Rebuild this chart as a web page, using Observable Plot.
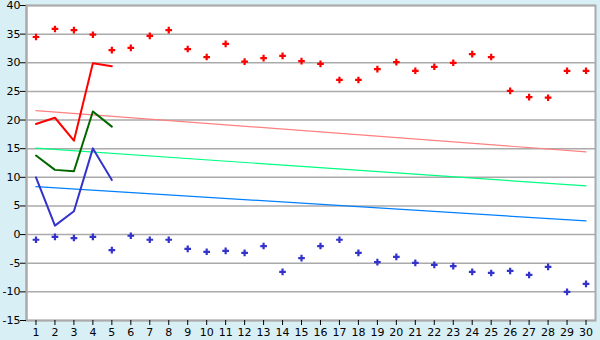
<!DOCTYPE html>
<html><head><meta charset="utf-8">
<script src="https://cdn.jsdelivr.net/npm/d3@7"></script>
<script src="https://cdn.jsdelivr.net/npm/@observablehq/plot@0.6"></script>
<style>
body{margin:0;background:#d9eff6;}
#c{width:600px;height:340px;}
svg{display:block;}
</style></head><body><div id="c"></div>
<script>
const days = d3.range(1, 31);
const yTicks = [-15,-10,-5,0,5,10,15,20,25,30,35,40];
const highPoints = [34.5,35.9,35.7,34.9,32.2,32.6,34.7,35.7,32.4,31.0,33.3,30.2,30.8,31.2,30.3,29.8,27.0,27.0,28.9,30.1,28.6,29.3,30.0,31.5,31.0,25.1,24.0,23.9,28.6,28.6];
const lowPoints = [-0.9,-0.4,-0.6,-0.4,-2.7,-0.2,-0.9,-0.9,-2.5,-3.0,-2.85,-3.2,-2.0,-6.5,-4.1,-2.0,-0.9,-3.2,-4.8,-3.9,-4.95,-5.3,-5.5,-6.5,-6.7,-6.35,-7.05,-5.65,-10.0,-8.6];
const lineDays = [1,2,3,4,5];
const redLine = [19.3,20.4,16.4,29.9,29.4];
const greenLine = [13.8,11.3,11.05,21.5,18.85];
const blueLine = [10.0,1.57,4.07,15.05,9.55];
const trendDays = [1,30];
const redTrend = [21.65,14.45];
const greenTrend = [15.1,8.5];
const blueTrend = [8.38,2.39];

const pts = (xs, ys) => xs.map((d,i)=>({x:d, y:ys[i]}));

const chart = Plot.plot({
  width: 600, height: 340,
  marginLeft: 26, marginRight: 5, marginTop: 5, marginBottom: 20,
  style: {background: "#d9eff6", fontFamily: "DejaVu Sans", fontSize: "11px", color: "#000"},
  x: {domain: [0.5, 30.5], label: null},
  y: {domain: [-15, 40], label: null},
  marks: [
    Plot.frame({fill: "white", stroke: "none"}),
    Plot.ruleY(yTicks, {stroke: "#aaaaaa", strokeWidth: 1.5}),
    Plot.frame({fill: "none", stroke: "#aaaaaa", strokeWidth: 2}),
    Plot.line(pts(trendDays, redTrend), {x:"x", y:"y", stroke: "#ff8080", strokeWidth: 1.2}),
    Plot.line(pts(trendDays, greenTrend), {x:"x", y:"y", stroke: "#00ff80", strokeWidth: 1.2}),
    Plot.line(pts(trendDays, blueTrend), {x:"x", y:"y", stroke: "#0080ff", strokeWidth: 1.2}),
    Plot.line(pts(lineDays, redLine), {x:"x", y:"y", stroke: "#ff0000", strokeWidth: 2}),
    Plot.line(pts(lineDays, greenLine), {x:"x", y:"y", stroke: "#006600", strokeWidth: 2}),
    Plot.line(pts(lineDays, blueLine), {x:"x", y:"y", stroke: "#3333cc", strokeWidth: 2}),
    Plot.dot(pts(days, highPoints), {x:"x", y:"y", symbol: "cross", r: 2.8, fill: "#ff0000", stroke: "none"}),
    Plot.dot(pts(days, lowPoints), {x:"x", y:"y", symbol: "cross", r: 2.8, fill: "#3333cc", stroke: "none"}),
    Plot.axisY({ticks: yTicks, tickFormat: d => String(d), tickSize: 6, stroke: "#000", tickPadding: 0, label: null}),
    Plot.axisX({ticks: days, tickFormat: d => String(d), tickSize: 5, tickPadding: 3, label: null}),
    Plot.ruleX([0.5], {stroke: "#aaaaaa", strokeWidth: 2})
  ]
});
document.getElementById("c").appendChild(chart);
</script></body></html>
